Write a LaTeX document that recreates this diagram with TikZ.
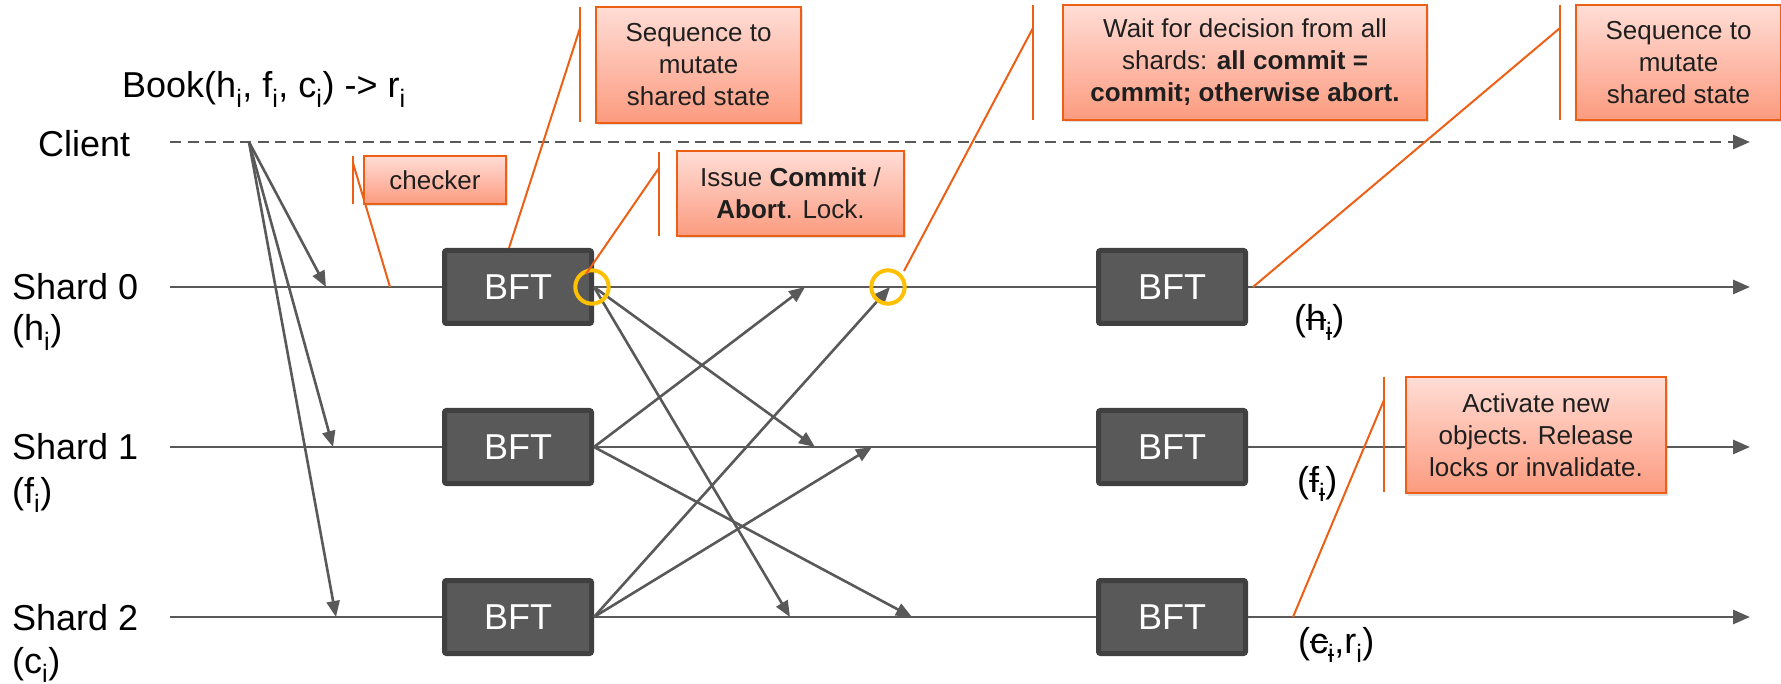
\documentclass[tikz,border=0pt]{standalone}
\usepackage{fontspec}
\setmainfont{Liberation Sans}
\usetikzlibrary{arrows.meta,shadows}

\definecolor{linegray}{HTML}{595959}
\definecolor{boxgray}{HTML}{595959}
\definecolor{boxedge}{HTML}{404040}
\definecolor{calloutedge}{HTML}{EC5F14}
\definecolor{callouttop}{HTML}{FFDDD6}
\definecolor{calloutbottom}{HTML}{FC9B7F}
\definecolor{ringyellow}{HTML}{FFC000}
\definecolor{notetext}{HTML}{1F1F1F}

% struck-out glyph: the character with a thin bar through it
\newsavebox\strkbox
\newcommand\strk[1]{\sbox\strkbox{#1}\rlap{\usebox\strkbox}\rule[0.28em]{\wd\strkbox}{0.06em}}

\begin{document}
\begin{tikzpicture}[x=1pt,y=-1pt,
  lbl/.style={font=\fontsize{36}{42}\selectfont, inner sep=0pt, anchor=base west},
  timeline/.style={draw=linegray, line width=2.8pt, -{Triangle[length=17pt,width=14pt]}},
  msg/.style={draw=linegray, line width=2.6pt, -{Triangle[length=16pt,width=13pt]}},
  bft/.style={draw=boxedge, fill=boxgray, line width=5pt, rounded corners=2pt,
    minimum width=147pt, minimum height=73pt, inner sep=0pt, text=white,
    font=\fontsize{36}{42}\selectfont},
  note/.style={draw=calloutedge, line width=2.5pt, top color=callouttop,
    bottom color=calloutbottom,
    drop shadow={opacity=0.25, shadow xshift=1.5pt, shadow yshift=-2.5pt},
    inner sep=0pt, align=center, text=notetext, font=\fontsize{26}{32}\selectfont},
  leader/.style={draw=calloutedge, line width=2pt},
  ring/.style={draw=ringyellow, line width=4pt, circle, minimum size=33.4pt, inner sep=0pt}
]
\useasboundingbox (0,0) rectangle (1781,684);

% ---------- time lines ----------
\coordinate (cl0) at (170,142);  \coordinate (cl1) at (1750,142);
\coordinate (s0a) at (170,287);  \coordinate (s0b) at (1750,287);
\coordinate (s1a) at (170,447);  \coordinate (s1b) at (1750,447);
\coordinate (s2a) at (170,617);  \coordinate (s2b) at (1750,617);

\draw[timeline, dash pattern=on 11pt off 6.5pt] (cl0) -- (cl1);
\draw[timeline] (s0a) -- (s0b);
\draw[timeline] (s1a) -- (s1b);
\draw[timeline] (s2a) -- (s2b);

% ---------- labels ----------
\node[lbl] (book) at (122,98) {Book(h\textsubscript{i}, f\textsubscript{i}, c\textsubscript{i}) -> r\textsubscript{i}};
\node[lbl] (client) at (38,157) {Client};
\node[lbl] (sh0) at (12,300) {Shard 0};
\node[lbl] (sh0k) at (12,341) {(h\textsubscript{i})};
\node[lbl] (sh1) at (12,460) {Shard 1};
\node[lbl] (sh1k) at (12,503) {(f\textsubscript{i})};
\node[lbl] (sh2) at (12,630) {Shard 2};
\node[lbl] (sh2k) at (12,673) {(c\textsubscript{i})};

\node[lbl] (out0) at (1294,331) {(\strk{h}\textsubscript{\strk{i}})};
\node[lbl] (out1) at (1297,492) {(\strk{f}\textsubscript{\strk{i}})};
\node[lbl] (out2) at (1298,653) {(\strk{c}\textsubscript{\strk{i}},r\textsubscript{i})};

% ---------- client request ----------
\coordinate (cli) at (249,142);
\coordinate (in0) at (326,287);
\coordinate (in1) at (333,447);
\coordinate (in2) at (336,617);
\draw[msg] (cli) -- (in0);
\draw[msg] (cli) -- (in1);
\draw[msg] (cli) -- (in2);

% ---------- BFT rounds ----------
\node[bft] (a0) at (518,287) {BFT};
\node[bft] (a1) at (518,447) {BFT};
\node[bft] (a2) at (518,617) {BFT};
\node[bft] (b0) at (1172,287) {BFT};
\node[bft] (b1) at (1172,447) {BFT};
\node[bft] (b2) at (1172,617) {BFT};

% ---------- cross-shard votes ----------
\coordinate (t01) at (815,447);
\coordinate (t02) at (790,617);
\coordinate (t10) at (805,287);
\coordinate (t12) at (912,617);
\coordinate (t20) at (890,287);
\coordinate (t21) at (872,447);
\draw[msg] (a0.east) -- (t01);
\draw[msg] (a0.east) -- (t02);
\draw[msg] (a1.east) -- (t10);
\draw[msg] (a1.east) -- (t12);
\draw[msg] (a2.east) -- (t20);
\draw[msg] (a2.east) -- (t21);

% ---------- highlighted events ----------
\node[ring] (r0) at (592,287) {};
\node[ring] (r1) at (888,287) {};

% ---------- callouts ----------
% checker
\coordinate (ckT) at (353,156); \coordinate (ckB) at (353,204);
\coordinate (ckP) at (353,163); \coordinate (ckX) at (390,287);
\draw[leader] (ckT) -- (ckB);
\draw[leader] (ckP) -- (ckX);
\node[note, minimum width=142pt, minimum height=48pt] (ck) at (435,180) {checker};

% sequence (first round)
\coordinate (q1T) at (580,7); \coordinate (q1B) at (580,122);
\coordinate (q1P) at (580,28); \coordinate (q1X) at (509,248);
\draw[leader] (q1T) -- (q1B);
\draw[leader] (q1P) -- (q1X);
\node[note, minimum width=205pt, minimum height=116pt] (q1) at (698.5,65) {Sequence to\\mutate\\shared state};

% issue commit / abort
\coordinate (isT) at (659,152); \coordinate (isB) at (659,236);
\coordinate (isP) at (659,168); \coordinate (isX) at (586,274);
\draw[leader] (isT) -- (isB);
\draw[leader] (isP) -- (isX);
\node[note, minimum width=227pt, minimum height=85pt] (is) at (790.5,193.5) {Issue \textbf{Commit} /\\\textbf{Abort}. Lock.};

% wait for decision
\coordinate (wtT) at (1033,5); \coordinate (wtB) at (1033,120);
\coordinate (wtP) at (1033,28); \coordinate (wtX) at (904,271);
\draw[leader] (wtT) -- (wtB);
\draw[leader] (wtP) -- (wtX);
\node[note, minimum width=364pt, minimum height=115pt] (wt) at (1245,62.5) {Wait for decision from all\\shards: \textbf{all commit =}\\\textbf{commit; otherwise abort.}};

% sequence (second round)
\coordinate (q2T) at (1560,5); \coordinate (q2B) at (1560,120);
\coordinate (q2P) at (1560,28); \coordinate (q2X) at (1253,287);
\draw[leader] (q2T) -- (q2B);
\draw[leader] (q2P) -- (q2X);
\node[note, minimum width=205pt, minimum height=115pt] (q2) at (1678.5,62.5) {Sequence to\\mutate\\shared state};

% activate / release
\coordinate (acT) at (1384,377); \coordinate (acB) at (1384,492);
\coordinate (acP) at (1384,400); \coordinate (acX) at (1293,617);
\draw[leader] (acT) -- (acB);
\draw[leader] (acP) -- (acX);
\node[note, minimum width=260pt, minimum height=116pt] (ac) at (1536,435) {Activate new\\objects. Release\\locks or invalidate.};

\end{tikzpicture}
\end{document}
